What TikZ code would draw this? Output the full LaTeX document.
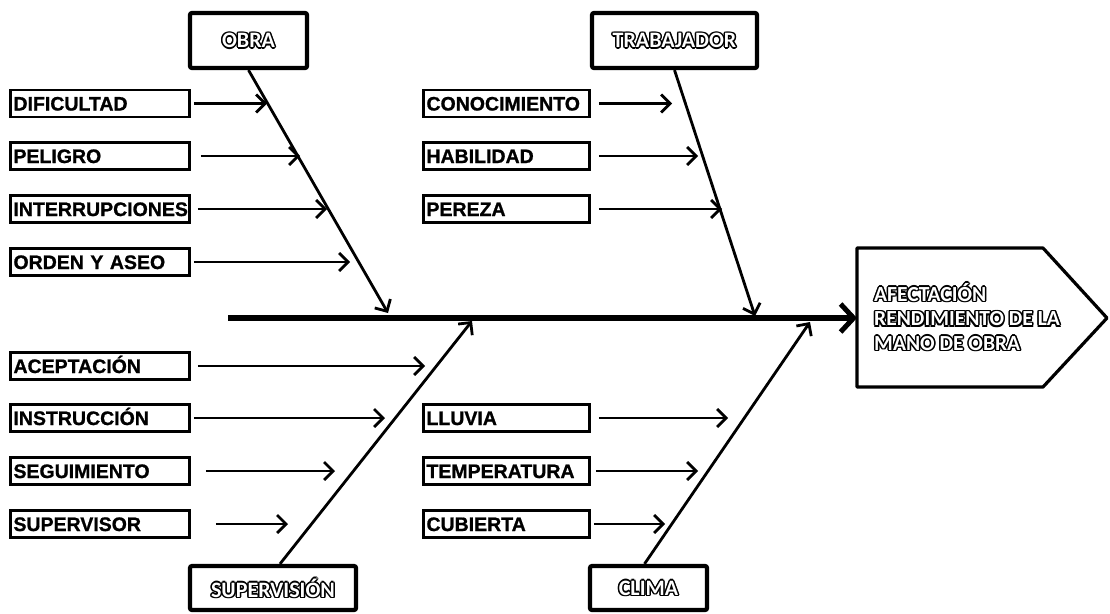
\documentclass[tikz,border=0pt]{standalone}
\usepackage{fontspec}
\setmainfont{Liberation Sans}[FakeBold=1]
\newfontfamily\catfont{Carlito}[UprightFont={* Bold}]
\usetikzlibrary{arrows.meta}
\newcommand{\oltcopy}[3]{\rlap{\hspace*{#1}\raisebox{#2}{\textcolor{black}{#3}}}}
\newcommand{\olt}[1]{\leavevmode\oltcopy{1.5pt}{0pt}{#1}\oltcopy{-1.5pt}{0pt}{#1}\oltcopy{0pt}{1.5pt}{#1}\oltcopy{0pt}{-1.5pt}{#1}\oltcopy{1.1pt}{1.1pt}{#1}\oltcopy{-1.1pt}{1.1pt}{#1}\oltcopy{1.1pt}{-1.1pt}{#1}\oltcopy{-1.1pt}{-1.1pt}{#1}\textcolor{white}{#1}}
\tikzset{
  causebox/.style={draw, line width=2.8pt, minimum height=27pt, inner xsep=3pt, inner ysep=0pt,
    align=left, font=\bfseries\fontsize{19.5}{19.5}\selectfont, text height=14pt, text depth=0pt},
  causeL/.style={causebox, text width=173pt},
  causeM/.style={causebox, text width=160pt},
  catbox/.style={draw, line width=4.2pt, rounded corners=2pt, inner sep=0pt,
    font=\catfont\fontsize{22}{22}\selectfont},
  arr/.style={line width=2.8pt, -{Straight Barb[length=9pt,width=18pt,line width=2.8pt]}},
  mainarr/.style={line width=6pt, -{Straight Barb[length=13pt,width=28pt,line width=5pt]}}
}
\begin{document}
\begin{tikzpicture}[x=1pt,y=-1pt]
\useasboundingbox (0,0) rectangle (1110,613);
% category boxes
\node[catbox, minimum width=117pt, minimum height=55pt] (obra) at (248.5,40.5) {\olt{OBRA}};
\node[catbox, minimum width=165pt, minimum height=55pt] (trab) at (674.5,40.5) {\olt{TRABAJADOR}};
\node[catbox, minimum width=166pt, minimum height=44pt] (sup) at (273,588) {\olt{SUPERVISIÓN}};
\node[catbox, minimum width=117pt, minimum height=44pt] (clima) at (648.5,588) {\olt{CLIMA}};
% cause boxes
\node[causeL] (d1) at (100,103.5) {DIFICULTAD};
\node[causeL] (d2) at (100,156) {PELIGRO};
\node[causeL] (d3) at (100,209) {INTERRUPCIONES};
\node[causeL] (d4) at (100,262) {ORDEN Y ASEO};
\node[causeL] (s1) at (100,366) {ACEPTACIÓN};
\node[causeL] (s2) at (100,418) {INSTRUCCIÓN};
\node[causeL] (s3) at (100,471) {SEGUIMIENTO};
\node[causeL] (s4) at (100,524) {SUPERVISOR};
\node[causeM] (t1) at (506.5,103.5) {CONOCIMIENTO};
\node[causeM] (t2) at (506.5,156) {HABILIDAD};
\node[causeM] (t3) at (506.5,209) {PEREZA};
\node[causeM] (c1) at (506.5,418) {LLUVIA};
\node[causeM] (c2) at (506.5,471) {TEMPERATURA};
\node[causeM] (c3) at (506.5,524) {CUBIERTA};
% effect
\coordinate (effin) at (857,318);
\draw[line width=3.2pt, line join=round] (857,248) -- (1043,248) -- (1107,318) -- (1043,387) -- (857,387) -- cycle;
\node[anchor=west, align=left, inner sep=0pt, font=\catfont\fontsize{21.5}{24.5}\selectfont] (efftext) at (874,317)
  {\olt{AFECTACIÓN}\\\olt{RENDIMIENTO DE LA}\\\olt{MANO DE OBRA}};
% tip coordinates
\coordinate (tail) at (228,318);
\coordinate (obraT) at (388,313);
\coordinate (trabT) at (755,316);
\coordinate (supT) at (472,321);
\coordinate (climaT) at (810,322);
\coordinate (d1e) at (267,103.5);
\coordinate (d2e) at (300,156);
\coordinate (d3e) at (327,209);
\coordinate (d4e) at (350,262);
\coordinate (s1e) at (425,366);
\coordinate (s2e) at (385,418);
\coordinate (s3e) at (335,471);
\coordinate (s4e) at (288,524);
\coordinate (t1e) at (672,103.5);
\coordinate (t2e) at (698,156);
\coordinate (t3e) at (722,209);
\coordinate (c1e) at (728,418);
\coordinate (c2e) at (698,471);
\coordinate (c3e) at (665,524);
% spines
\draw[mainarr] (tail) -- (effin);
\draw[arr] (obra.south) -- (obraT);
\draw[arr] (trab.south) -- (trabT);
\draw[arr] ([xshift=7pt]sup.north) -- (supT);
\draw[arr] ([xshift=-4pt]clima.north) -- (climaT);
% cause arrows
\draw[arr] ([xshift=3pt]d1.east) -- (d1e);
\draw[arr] ([xshift=10pt]d2.east) -- (d2e);
\draw[arr] ([xshift=7pt]d3.east) -- (d3e);
\draw[arr] ([xshift=3pt]d4.east) -- (d4e);
\draw[arr] ([xshift=7pt]s1.east) -- (s1e);
\draw[arr] ([xshift=3pt]s2.east) -- (s2e);
\draw[arr] ([xshift=15pt]s3.east) -- (s3e);
\draw[arr] ([xshift=25pt]s4.east) -- (s4e);
\draw[arr] ([xshift=8pt]t1.east) -- (t1e);
\draw[arr] ([xshift=8pt]t2.east) -- (t2e);
\draw[arr] ([xshift=8pt]t3.east) -- (t3e);
\draw[arr] ([xshift=8pt]c1.east) -- (c1e);
\draw[arr] ([xshift=5pt]c2.east) -- (c2e);
\draw[arr] ([xshift=3pt]c3.east) -- (c3e);
\end{tikzpicture}
\end{document}
